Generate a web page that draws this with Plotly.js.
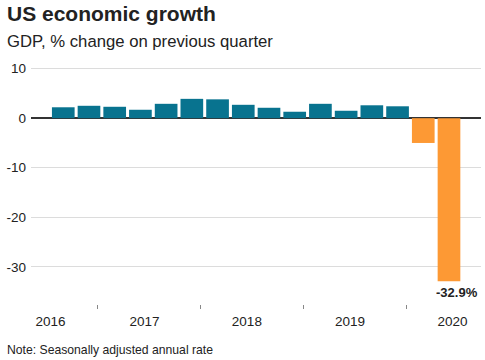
<!DOCTYPE html>
<html>
<head>
<meta charset="utf-8">
<script src="https://cdn.plot.ly/plotly-3.0.1.min.js"></script>
<style>html,body{margin:0;padding:0;background:#fff;}#chart{width:485px;height:360px;}</style>
</head>
<body>
<div id="chart"></div>
<script>
// Quarters 2016 Q3 .. 2020 Q2
const quarters = ["2016 Q3","2016 Q4","2017 Q1","2017 Q2","2017 Q3","2017 Q4","2018 Q1","2018 Q2","2018 Q3","2018 Q4","2019 Q1","2019 Q2","2019 Q3","2019 Q4","2020 Q1","2020 Q2"];
const gdpChange = [2.2, 2.5, 2.3, 1.7, 2.9, 3.9, 3.8, 2.7, 2.1, 1.3, 2.9, 1.5, 2.6, 2.4, -5.0, -32.9];
const yearLabels = ["2016","2017","2018","2019","2020"];
const yearLabelPos = [-0.5, 3.16, 7.14, 11.15, 15.14];
const yearBoundaries = [1.33, 5.33, 9.33, 13.33];
const yTicks = [10, 0, -10, -20, -30];

const TEAL = "#08738f", ORANGE = "#fd9934";
const xIdx = quarters.map((q, i) => i);
const colors = gdpChange.map(v => v < 0 ? ORANGE : TEAL);
const FONT = "Liberation Sans, Arial, Helvetica, sans-serif";
const lastI = gdpChange.length - 1;

const trace = {
  type: "bar",
  x: xIdx,
  y: gdpChange,
  customdata: quarters,
  marker: {color: colors, line: {width: 0}},
  hoverinfo: "skip"
};

const layout = {
  width: 485, height: 360,
  margin: {l: 31, r: 4, t: 60, b: 55.5, pad: 0},
  paper_bgcolor: "#fff", plot_bgcolor: "#fff",
  font: {family: FONT, color: "#222", size: 13.5},
  showlegend: false,
  bargap: 0.118,
  xaxis: {
    range: [-1.255, 16.245],
    tickmode: "array",
    tickvals: yearLabelPos,
    ticktext: yearLabels,
    ticks: "outside", ticklen: 4.5, tickcolor: "rgba(0,0,0,0)",
    showgrid: false, zeroline: false, showline: false,
    tickfont: {size: 13.5, color: "#222"},
    minor: {tickmode: "array", tickvals: yearBoundaries, ticks: "outside", ticklen: 3.5, tickwidth: 1, tickcolor: "#888", showgrid: false},
    fixedrange: true
  },
  yaxis: {
    range: [-37.48, 11.736],
    tickmode: "array",
    tickvals: yTicks,
    ticktext: yTicks.map(String),
    ticks: "", showline: false,
    showgrid: true, gridcolor: "#dcdcdc", gridwidth: 1,
    zeroline: true, zerolinecolor: "#333", zerolinewidth: 1.5,
    tickfont: {size: 13.5, color: "#222"},
    ticklabelstandoff: 4,
    fixedrange: true
  },
  annotations: [
    {xref: "paper", yref: "paper", x: -0.0578, y: 1.192, xanchor: "left", yanchor: "middle", showarrow: false,
     text: "<b>US economic growth</b>", font: {size: 21, color: "#222", family: FONT}},
    {xref: "paper", yref: "paper", x: -0.0578, y: 1.0748, xanchor: "left", yanchor: "middle", showarrow: false,
     text: "GDP, % change on previous quarter", font: {size: 16.7, color: "#222", family: FONT}},
    {xref: "paper", yref: "paper", x: -0.0578, y: -0.188, xanchor: "left", yanchor: "middle", showarrow: false,
     text: "Note: Seasonally adjusted annual rate", font: {size: 12.2, color: "#222", family: FONT}},
    {xref: "x", yref: "y", x: xIdx[lastI], y: gdpChange[lastI], xanchor: "center", yanchor: "top", showarrow: false,
     xshift: 8, yshift: -2,
     text: "<b>" + gdpChange[lastI].toFixed(1) + "%</b>", font: {size: 13, color: "#222", family: FONT}}
  ]
};

Plotly.newPlot("chart", [trace], layout, {displayModeBar: false, staticPlot: true});
</script>
</body>
</html>
